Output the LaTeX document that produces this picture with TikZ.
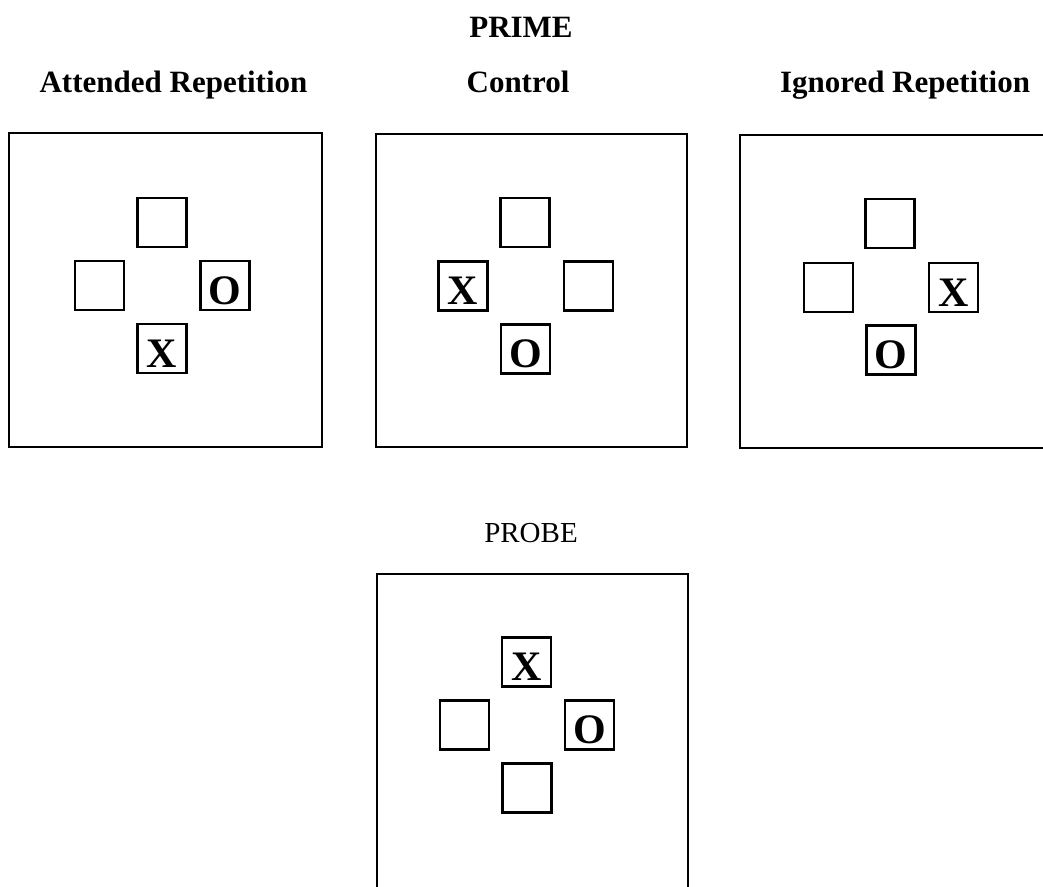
\documentclass[tikz,border=0pt]{standalone}
\usepackage{fontspec}
\setmainfont{Liberation Serif}
\begin{document}
\begin{tikzpicture}[x=1pt,y=-1pt,
  panel/.style={draw, line width=2.1pt, inner sep=0pt},
  cell/.style={draw, line width=2.1pt, minimum size=49pt, inner sep=0pt},
  letter/.style={inner sep=0pt, font=\fontsize{42}{42}\selectfont\bfseries},
  head/.style={anchor=base, inner sep=0pt, font=\fontsize{31}{31}\selectfont\bfseries},
  probehead/.style={anchor=base, inner sep=0pt, font=\fontsize{29}{29}\selectfont}]
\useasboundingbox (0,0) rectangle (1043,886);

% headings
\node[head] (prime) at (521,37) {PRIME};
\node[head] (h1) at (173.5,92) {Attended Repetition};
\node[head] (h2) at (518,92) {Control};
\node[head] (h3) at (905,92) {Ignored Repetition};
\node[probehead] (probe) at (531,542) {PROBE};

% panels
\node[panel, minimum width=313pt, minimum height=314pt] (p1) at (165.5,290) {};
\node[panel, minimum width=311pt, minimum height=313pt] (p2) at (531.5,290.5) {};
\node[panel, minimum width=311pt, minimum height=313pt] (p3) at (895.5,291.5) {};
\node[panel, minimum width=311pt, minimum height=318pt] (p4) at (532.5,733) {};

% panel 1: attended repetition
\node[cell] (a1t) at (162,222.5) {};
\node[cell] (a1l) at (99.5,285.5) {};
\node[cell] (a1r) at (225,285.5) {};
\node[cell] (a1b) at (162,348.5) {};
\node[letter] (a1o) at ([yshift=-5pt]a1r.center) {O};
\node[letter] (a1x) at ([yshift=-5pt]a1b.center) {X};

% panel 2: control
\node[cell] (a2t) at (525,222.5) {};
\node[cell] (a2l) at (463,286) {};
\node[cell] (a2r) at (588.5,286) {};
\node[cell] (a2b) at (525.5,349) {};
\node[letter] (a2x) at ([yshift=-5pt]a2l.center) {X};
\node[letter] (a2o) at ([yshift=-5pt]a2b.center) {O};

% panel 3: ignored repetition
\node[cell] (a3t) at (890,223.5) {};
\node[cell] (a3l) at (828.5,287.5) {};
\node[cell] (a3r) at (953.5,287.5) {};
\node[cell] (a3b) at (891,350) {};
\node[letter] (a3x) at ([yshift=-5pt]a3r.center) {X};
\node[letter] (a3o) at ([yshift=-5pt]a3b.center) {O};

% panel 4: probe
\node[cell] (a4t) at (526.5,662) {};
\node[cell] (a4l) at (464.5,725) {};
\node[cell] (a4r) at (589.5,725) {};
\node[cell] (a4b) at (527,788) {};
\node[letter] (a4x) at ([yshift=-5pt]a4t.center) {X};
\node[letter] (a4o) at ([yshift=-5pt]a4r.center) {O};
\end{tikzpicture}
\end{document}
